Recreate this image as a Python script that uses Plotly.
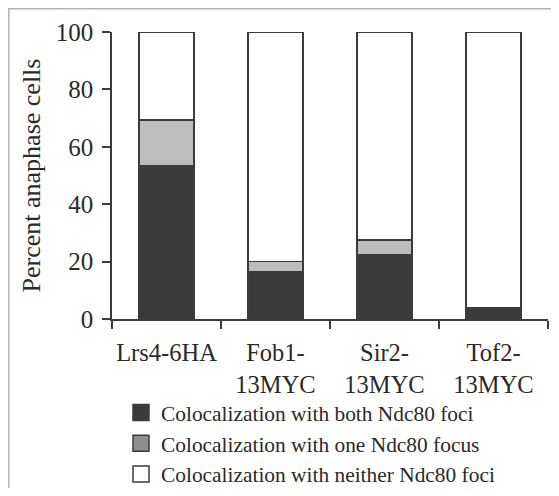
import plotly.graph_objects as go

categories = ["Lrs4-6HA", "Fob1-<br>13MYC", "Sir2-<br>13MYC", "Tof2-<br>13MYC"]
both = [53.3, 16.5, 22.3, 3.8]
one = [16.0, 3.5, 5.2, 0.0]
neither = [30.7, 80.0, 72.5, 96.2]
series_names = [
    "Colocalization with both Ndc80 foci",
    "Colocalization with one Ndc80 focus",
    "Colocalization with neither Ndc80 foci",
]
bar_colors = ["#3a3a3a", "#bdbdc0", "#ffffff"]
legend_colors = ["#3a3a3a", "#8e8e90", "#ffffff"]
y_ticks = [0, 20, 40, 60, 80, 100]

FONT = "Liberation Serif, Times New Roman, serif"
TXT = "#2a2a2a"
# the page body adds an 8px offset; the figure fills the rest of the window
W, H = 543, 480
ml, mr, mt, mb = 104, 3, 24, 169
pw = W - ml - mr
ph = H - mt - mb

fig = go.Figure()
for vals, name, col in zip([both, one, neither], series_names, bar_colors):
    fig.add_trace(go.Bar(
        x=categories, y=vals, name=name, showlegend=False,
        marker=dict(color=col, line=dict(color="#3c3c3c", width=1.6)),
        width=0.5,
    ))
for name, col in zip(series_names, legend_colors):
    fig.add_trace(go.Scatter(
        x=[None], y=[None], mode="markers", name=name,
        marker=dict(symbol="square", size=16, color=col,
                    line=dict(color="#3c3c3c", width=1.5)),
    ))

fig.add_shape(type="rect", xref="paper", yref="paper",
              x0=(0.8 - ml) / pw, x1=(W + 5 - ml) / pw,
              y0=-(H + 5 - mt - ph) / ph, y1=(ph + mt - 0.8) / ph,
              line=dict(color="#b4b4b4", width=1.5), layer="below")

fig.update_layout(
    width=W, height=H, barmode="stack",
    margin=dict(l=ml, r=mr, t=mt, b=mb, autoexpand=False),
    plot_bgcolor="white", paper_bgcolor="white",
    font=dict(family=FONT, size=24, color=TXT),
    showlegend=True,
    legend=dict(x=(113 - ml) / pw, xanchor="left",
                y=-(384 - mt - ph) / ph, yanchor="top",
                traceorder="normal",
                font=dict(family=FONT, size=21.4, color=TXT),
                itemsizing="trace", tracegroupgap=0,
                bgcolor="rgba(0,0,0,0)"),
    xaxis=dict(showline=True, linecolor="#3c3c3c", linewidth=1.6,
               ticks="outside", tickson="boundaries", ticklen=8,
               tickcolor="#3c3c3c", tickwidth=1.6, automargin=False,
               ticklabelstandoff=11, tickangle=0,
               tickfont=dict(family=FONT, size=24.5, color=TXT),
               showgrid=False),
    yaxis=dict(range=[0, 100], tickvals=y_ticks, showline=True,
               linecolor="#3c3c3c", linewidth=1.6, ticks="outside",
               ticklen=8, tickcolor="#3c3c3c", tickwidth=1.6,
               automargin=False, ticklabelstandoff=4,
               tickfont=dict(family=FONT, size=25, color=TXT),
               showgrid=False, zeroline=False,
               title=dict(text="Percent anaphase cells", standoff=8,
                          font=dict(family=FONT, size=26, color=TXT))),
)

fig.write_html("out.html")
